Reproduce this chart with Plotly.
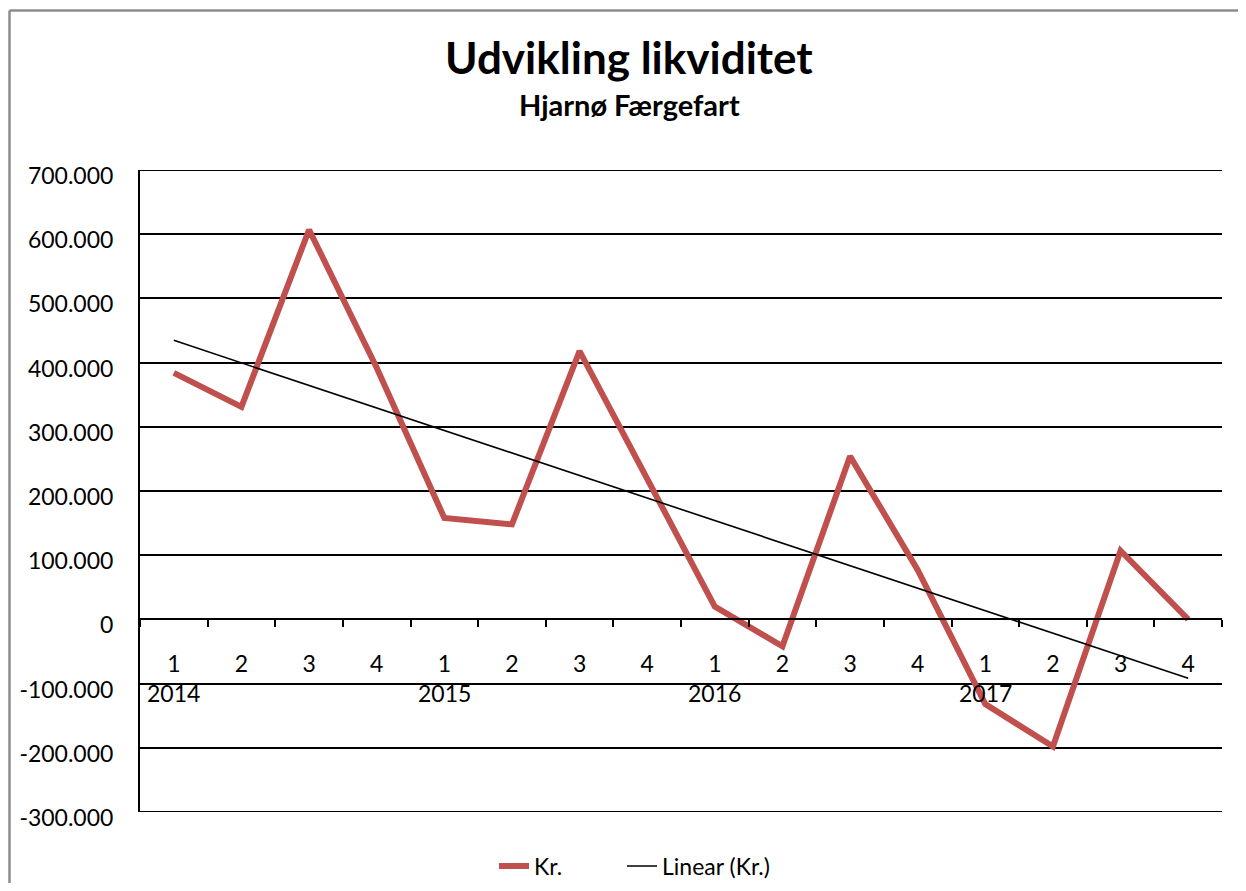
import numpy as np
import plotly.graph_objects as go

# ---- data ----
years = ["2014", "2015", "2016", "2017"]
quarters = ["1", "2", "3", "4"]
kr_values = [384000, 331000, 607000, 392000,
             158000, 148000, 418000, 220000,
             20000, -42000, 254000, 77000,
             -132000, -198000, 107000, 0]
y_tickvals = [700000, 600000, 500000, 400000, 300000, 200000, 100000, 0,
              -100000, -200000, -300000]
y_ticktext = ["700.000", "600.000", "500.000", "400.000", "300.000", "200.000",
              "100.000", "0", "-100.000", "-200.000", "-300.000"]
title_text = "Udvikling likviditet"
subtitle_text = "Hjarnø Færgefart"
series_name = "Kr."
trend_name = "Linear (Kr.)"

# ---- layout geometry (page pixels; page body has an 8px margin) ----
OFF = 8
PAGE_W, PAGE_H = 1246, 891
W, H = PAGE_W - 2 * OFF, PAGE_H - 2 * OFF     # keep the page free of scrollbars
PL, PR, PT, PB = 140, 1222, 170, 812          # plot area in page pixels
ML, MR, MT, MB = PL - OFF, W - (PR - OFF), PT - OFF, H - (PB - OFF)
PW, PH = W - ML - MR, H - MT - MB
FONT = "Lato, 'Open Sans', sans-serif"
RED = "#C0504D"


def px_x(px):
    return (px - PL) / PW


def px_y(py):
    return (PB - py) / PH


cat_labels = [q for y in years for q in quarters]
x_idx = list(range(len(cat_labels)))

coef = np.polyfit(x_idx, kr_values, 1)
trend = np.polyval(coef, x_idx)

fig = go.Figure()
fig.add_trace(go.Scatter(
    x=x_idx, y=kr_values, mode="lines", name=series_name,
    line=dict(color=RED, width=6, shape="linear"), legend="legend",
))
fig.add_trace(go.Scatter(
    x=x_idx, y=trend, mode="lines", name=trend_name,
    line=dict(color="black", width=1.6), legend="legend2",
))

y_min, y_max = min(y_tickvals), max(y_tickvals)
zero_pos = (0 - y_min) / (y_max - y_min)
x_lo, x_hi = -0.5, len(cat_labels) - 0.5

legend_common = dict(orientation="h", xanchor="left", yanchor="middle",
                     y=px_y(866), bgcolor="rgba(0,0,0,0)",
                     font=dict(family=FONT, size=23, color="black"))

fig.update_layout(
    width=W, height=H,
    margin=dict(l=ML, r=MR, t=MT, b=MB, autoexpand=False),
    paper_bgcolor="white", plot_bgcolor="white",
    font=dict(family=FONT, size=23, color="black"),
    showlegend=True,
    legend=dict(x=px_x(494), **legend_common),
    legend2=dict(x=px_x(622), **legend_common),
    xaxis=dict(
        range=[x_lo, x_hi],
        tickmode="array", tickvals=x_idx, ticktext=cat_labels,
        ticks="", showgrid=False, zeroline=False,
        anchor="free", position=zero_pos,
        showline=True, linecolor="black", linewidth=2,
        ticklabelstandoff=24,
        tickfont=dict(family=FONT, size=23, color="black"),
        minor=dict(tick0=-0.5, dtick=1, ticks="outside", ticklen=7,
                   tickcolor="black", tickwidth=1.5, showgrid=False),
    ),
    yaxis=dict(
        range=[y_min, y_max],
        tickmode="array", tickvals=y_tickvals, ticktext=y_ticktext,
        showgrid=True, gridcolor="black", gridwidth=1.8,
        zeroline=False, showline=True, linecolor="black", linewidth=2,
        ticks="", ticklabelstandoff=20, ticklabelshift=6,
        tickfont=dict(family=FONT, size=23, color="black"),
    ),
)

annotations = [
    dict(text="<b>" + title_text + "</b>", xref="paper", yref="paper",
         x=px_x(629), y=px_y(57), xanchor="center", yanchor="middle",
         showarrow=False, font=dict(family=FONT, size=44, color="black")),
    dict(text="<b>" + subtitle_text + "</b>", xref="paper", yref="paper",
         x=px_x(629), y=px_y(104), xanchor="center", yanchor="middle",
         showarrow=False, font=dict(family=FONT, size=29, color="black")),
]
for i, yr in enumerate(years):
    annotations.append(dict(
        text=yr, xref="x", yref="y", x=i * len(quarters), y=0,
        xanchor="center", yanchor="middle", yshift=-74, showarrow=False,
        font=dict(family=FONT, size=23, color="black"),
    ))
fig.update_layout(annotations=annotations)

# gridlines at the range edges (plotly hides them)
for yv in (y_max, y_min):
    fig.add_shape(type="line", xref="x", yref="y", x0=x_lo, x1=x_hi,
                  y0=yv, y1=yv, line=dict(color="black", width=1.8), layer="below")

# outer chart border (grey); left edge kept just inside the figure
BX = OFF + 1.5
fig.add_shape(type="line", xref="paper", yref="paper",
              x0=px_x(BX), x1=px_x(BX), y0=px_y(10.5), y1=px_y(PAGE_H + 20),
              line=dict(color="#8C8C8C", width=2.5))
fig.add_shape(type="line", xref="paper", yref="paper",
              x0=px_x(BX), x1=px_x(PAGE_W + 20), y0=px_y(10.5), y1=px_y(10.5),
              line=dict(color="#8C8C8C", width=2.5))

fig.write_html("out.html")
